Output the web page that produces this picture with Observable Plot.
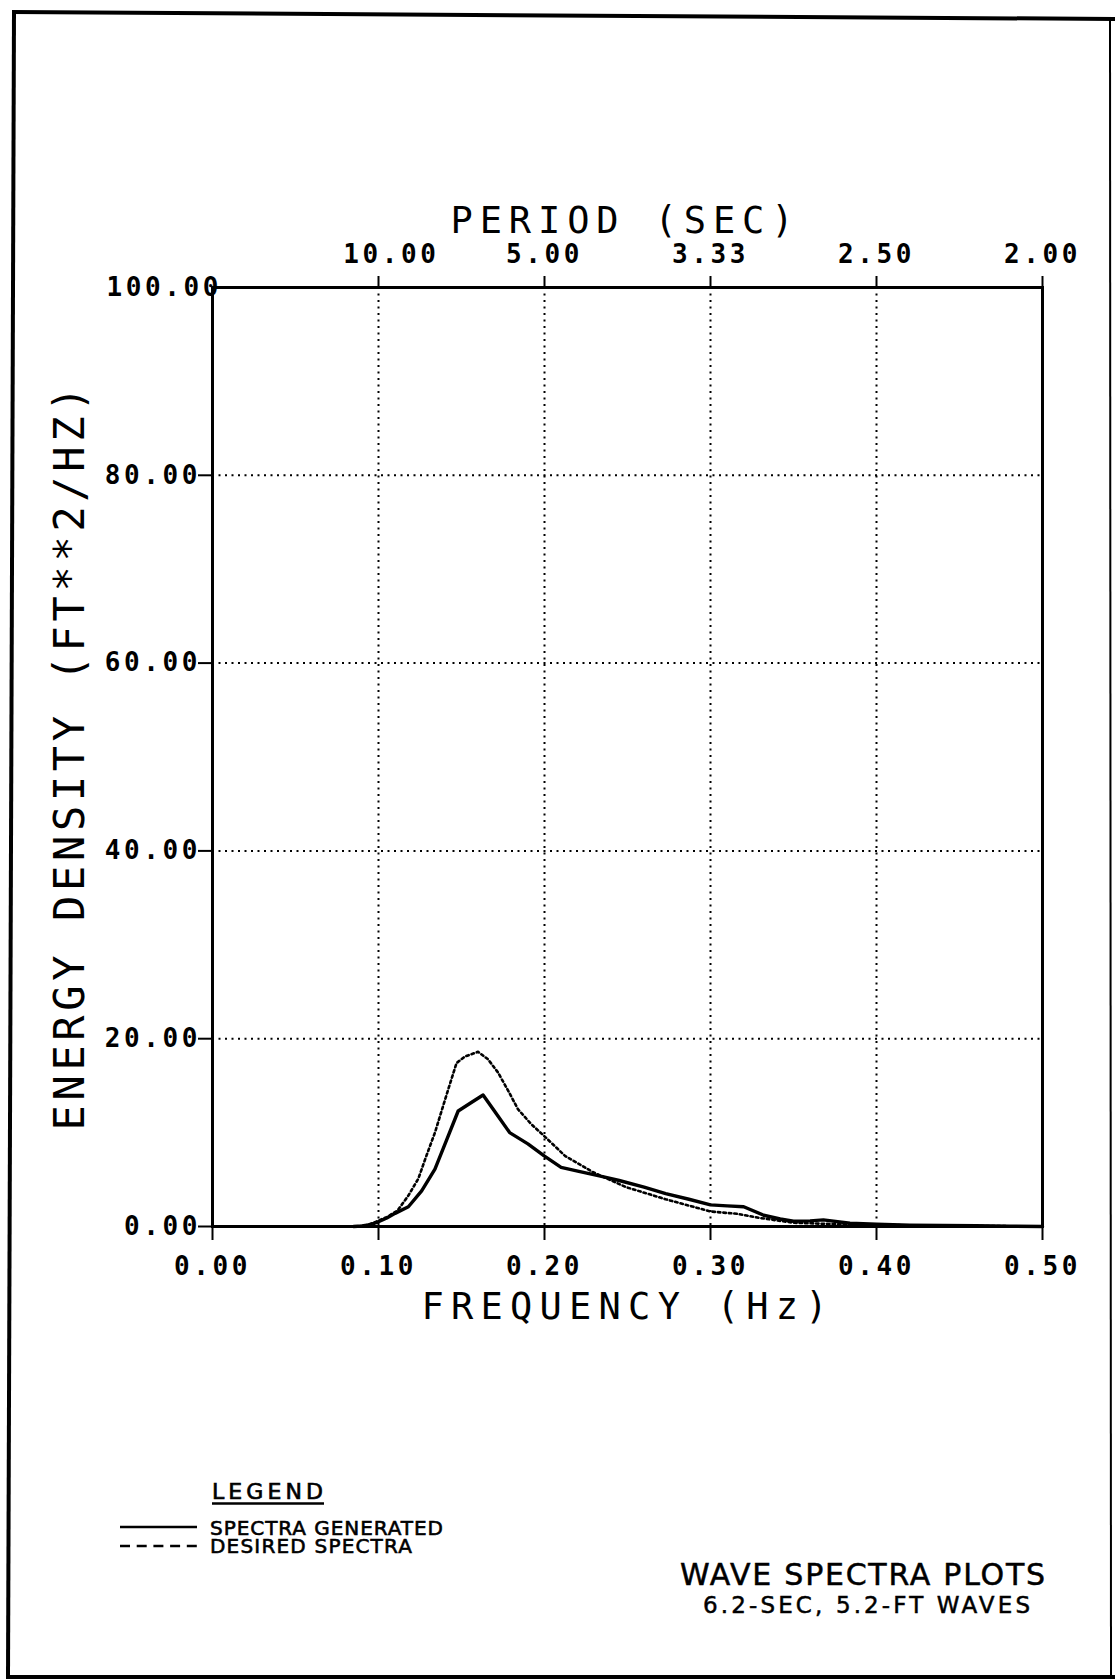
<!DOCTYPE html>
<html><head><meta charset="utf-8">
<script src="https://cdn.jsdelivr.net/npm/d3@7"></script>
<script src="https://cdn.jsdelivr.net/npm/@observablehq/plot@0.6"></script>
<style>
html,body{margin:0;padding:0;background:#fff;}
#page{position:relative;width:1115px;height:1680px;overflow:hidden;background:#fff;}
#chart{position:absolute;left:0;top:0;}
#overlay{position:absolute;left:0;top:0;pointer-events:none;}
</style></head><body>
<div id="page"><div id="chart"></div><svg id="overlay" width="1115" height="1680"></svg></div>
<script>
// ---- data ----
const genFreq   = [0.085,0.090,0.095,0.100,0.105,0.110,0.118,0.126,0.134,0.141,0.148,0.155,0.163,0.171,0.179,0.190,0.200,0.210,0.220,0.233,0.245,0.260,0.273,0.287,0.300,0.310,0.320,0.332,0.342,0.350,0.360,0.368,0.384,0.400,0.420,0.440,0.460,0.480,0.500];
const genEnergy = [0.0,0.05,0.2,0.5,0.9,1.4,2.1,3.8,6.1,9.2,12.3,13.1,14.0,12.0,10.0,8.8,7.5,6.3,5.9,5.4,4.9,4.2,3.5,2.9,2.3,2.2,2.1,1.2,0.8,0.56,0.6,0.7,0.35,0.25,0.15,0.1,0.08,0.03,0.0];
const desFreq   = [0.088,0.093,0.097,0.105,0.1115,0.118,0.124,0.129,0.134,0.142,0.147,0.152,0.160,0.166,0.172,0.178,0.184,0.192,0.200,0.2125,0.229,0.249,0.273,0.300,0.316,0.330,0.350,0.384,0.436,0.470,0.500];
const desEnergy = [0.0,0.15,0.4,1.0,1.7,3.3,5.1,7.6,10.0,14.6,17.4,18.1,18.6,17.8,16.4,14.5,12.5,10.9,9.6,7.5,5.8,4.2,2.9,1.6,1.35,0.9,0.4,0.2,0.1,0.05,0.0];

const freqTicks = [0, 0.1, 0.2, 0.3, 0.4, 0.5];
const freqTickLabels = ["0.00","0.10","0.20","0.30","0.40","0.50"];
const energyTicks = [0, 20, 40, 60, 80, 100];
const energyTickLabels = ["0.00","20.00","40.00","60.00","80.00","100.00"];
const periodTicks = [0.1, 0.2, 0.3, 0.4, 0.5];
const periodTickLabels = ["10.00","5.00","3.33","2.50","2.00"];

const xTitle = "FREQUENCY (Hz)";
const topTitle = "PERIOD (SEC)";
const yTitle = "ENERGY DENSITY (FT**2/HZ)";
const legendTitle = "LEGEND";
const seriesNames = ["SPECTRA GENERATED", "DESIRED SPECTRA"];
const titleLines = ["WAVE SPECTRA PLOTS", "6.2-SEC, 5.2-FT WAVES"];

// ---- build ----
const gen = genFreq.map((f, i) => ({f, e: genEnergy[i]}));
const des = desFreq.map((f, i) => ({f, e: desEnergy[i]}));
const lab = (ticks, labels) => d => labels[ticks.findIndex(t => Math.abs(t - d) < 1e-9)] ?? "";

const tickFont = {fontSize: 26, fontWeight: "bold"};
const gridStyle = {stroke: "black", strokeOpacity: 1, strokeWidth: 2, strokeDasharray: "2,4.5"};

const plot = Plot.plot({
  width: 1115, height: 1340,
  marginLeft: 212, marginRight: 73, marginTop: 287, marginBottom: 114,
  x: {domain: [0, 0.5], label: null},
  y: {domain: [0, 100], label: null},
  style: {fontFamily: "'DejaVu Sans Mono', monospace", background: "transparent", color: "black", overflow: "visible"},
  marks: [
    Plot.gridX({ticks: periodTicks.slice(0, 4), ...gridStyle}),
    Plot.gridY({ticks: energyTicks.slice(1, 5), ...gridStyle}),
    Plot.line(des, {x: "f", y: "e", stroke: "black", strokeWidth: 2.6, strokeDasharray: "2.5,3"}),
    Plot.line(gen, {x: "f", y: "e", stroke: "black", strokeWidth: 3.4}),
    Plot.frame({stroke: "black", strokeWidth: 3}),
    Plot.axisX({anchor: "bottom", ticks: freqTicks, tickFormat: lab(freqTicks, freqTickLabels),
      tickSize: 14, tickPadding: 16, strokeWidth: 2, label: null, ...tickFont}),
    Plot.axisX({anchor: "top", ticks: periodTicks, tickFormat: d => d === periodTicks[0] ? "" : lab(periodTicks, periodTickLabels)(d),
      tickSize: 12, tickPadding: 13, strokeWidth: 2, label: null, ...tickFont}),
    Plot.text([periodTicks[0]], {x: d => d, text: d => lab(periodTicks, periodTickLabels)(d),
      frameAnchor: "top", textAnchor: "middle", lineAnchor: "bottom", dy: -25, dx: 13, ...tickFont}),
    Plot.axisY({anchor: "left", ticks: energyTicks.slice(0, 5), tickFormat: lab(energyTicks, energyTickLabels),
      tickSize: 14, tickPadding: -2.5, strokeWidth: 2, label: null, ...tickFont}),
    Plot.text([energyTicks[5]], {y: d => d, text: d => lab(energyTicks, energyTickLabels)(d),
      frameAnchor: "left", textAnchor: "end", lineAnchor: "middle", dx: 9.6, ...tickFont}),
    Plot.text([xTitle], {text: d => d, frameAnchor: "bottom", textAnchor: "middle", lineAnchor: "top", dy: 66, dx: -3, fontSize: 37}),
    Plot.text([topTitle], {text: d => d, frameAnchor: "top", textAnchor: "middle", lineAnchor: "bottom", dy: -55, dx: -5.5, fontSize: 37}),
    Plot.text([yTitle], {text: d => d, frameAnchor: "left", textAnchor: "middle", rotate: -90, lineAnchor: "middle", dx: -142, dy: 1.5, fontSize: 42})
  ]
});
document.getElementById("chart").appendChild(plot);

// plotter-style spacing: tick labels get letter spacing, titles are fitted to their measured lengths
const tickTexts = new Set([...freqTickLabels, ...energyTickLabels, ...periodTickLabels]);
const fitLengths = new Map([[xTitle, 406], [topTitle, 343], [yTitle, 744]]);
plot.querySelectorAll("text").forEach(t => {
  const s = t.textContent;
  if (tickTexts.has(s)) t.setAttribute("letter-spacing", "3.6");
  if (fitLengths.has(s)) {
    t.setAttribute("textLength", fitLengths.get(s));
    t.setAttribute("lengthAdjust", "spacing");
  }
});

// ---- page border, legend, title block ----
const ov = d3.select("#overlay");
const border = ov.append("g").attr("stroke", "black").attr("stroke-width", 4).attr("fill", "none");
border.append("line").attr("x1", 12).attr("y1", 12).attr("x2", 1115).attr("y2", 19);
border.append("line").attr("x1", 14).attr("y1", 11).attr("x2", 8).attr("y2", 1678);
border.append("line").attr("x1", 6).attr("y1", 1677).attr("x2", 1115).attr("y2", 1677);
border.append("line").attr("x1", 1110).attr("y1", 19).attr("x2", 1111).attr("y2", 1677).attr("stroke-width", 2);

const fontSans = "'DejaVu Sans', sans-serif";
const txt = (s, x, y, fs, len, sw) => ov.append("text").attr("x", x).attr("y", y)
  .attr("font-family", fontSans).attr("font-size", fs).attr("fill", "black")
  .attr("stroke", "black").attr("stroke-width", sw)
  .attr("textLength", len).attr("lengthAdjust", "spacing").text(s);

txt(legendTitle, 212, 1499, 22, 111, 0.7);
ov.append("line").attr("x1", 212).attr("x2", 324).attr("y1", 1503.5).attr("y2", 1503.5).attr("stroke", "black").attr("stroke-width", 2.5);
ov.append("line").attr("x1", 120).attr("x2", 197).attr("y1", 1527).attr("y2", 1527).attr("stroke", "black").attr("stroke-width", 2.5);
txt(seriesNames[0], 210, 1535, 20, 233, 0.6);
ov.append("line").attr("x1", 120).attr("x2", 197).attr("y1", 1546).attr("y2", 1546).attr("stroke", "black").attr("stroke-width", 2.5).attr("stroke-dasharray", "10,6.7");
txt(seriesNames[1], 210, 1553, 20, 202, 0.6);

txt(titleLines[0], 680, 1585, 30, 365, 0.5);
txt(titleLines[1], 703, 1613, 23, 327, 0.5);
</script>
</body></html>
